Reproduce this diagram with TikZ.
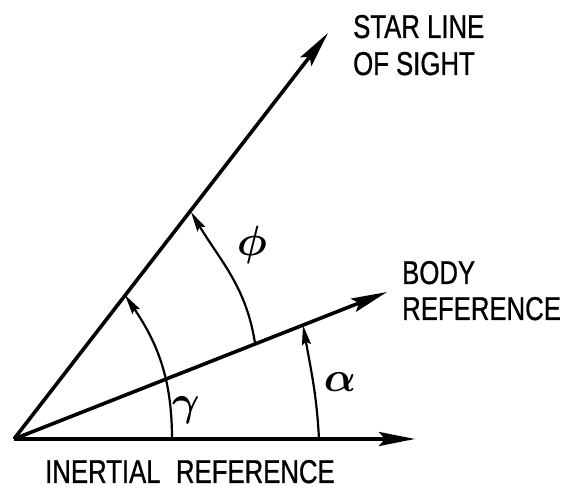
\documentclass[tikz,border=0pt]{standalone}
\usepackage{fontspec}
\usetikzlibrary{arrows.meta}
\newfontfamily\labfont[FakeStretch=0.78,FakeBold=0.8]{Liberation Sans}
\newcommand{\bigsym}[1]{\scalebox{1.7}{\Huge$\boldsymbol{#1}$}}
\usepackage{amsmath}
\tikzset{
  mainline/.style={line width=3.6pt, -{Stealth[length=36pt,width=14pt,inset=6pt]}},
  arcline/.style={line width=2.2pt, -{Stealth[length=20pt,width=9pt,inset=3pt]}},
  lab/.style={anchor=base west, inner sep=0pt, font=\labfont\fontsize{33}{37}\selectfont},
  greek/.style={inner sep=0pt}
}
\begin{document}
\begin{tikzpicture}[x=1pt,y=1pt]
\useasboundingbox (0,0) rectangle (568,490);
\coordinate (O) at (14,51);
\coordinate (star) at (328,457);
\coordinate (body) at (387,198);
\coordinate (inert) at (415,51);
\draw[mainline] (O) -- (star);
\draw[mainline] (O) -- (body);
\draw[mainline] (O) -- (inert);
% arcs
\coordinate (g0) at (172,51);
\coordinate (g1) at (125,195);
\coordinate (p0) at (255,147);
\coordinate (p1) at (191,278);
\coordinate (a0) at (319,51);
\coordinate (a1) at (303,165);
\draw[arcline] (g0) to[out=90,in=-56] (g1);
\draw[arcline] (p0) to[out=99,in=-59] (p1);
\draw[arcline] (a0) to[out=93,in=-80] (a1);
% labels
\node[lab] (s1) at (353,452) {STAR LINE};
\node[lab] (s2) at (353,415) {OF SIGHT};
\node[lab] (b1) at (402,206) {BODY};
\node[lab] (b2) at (402,170) {REFERENCE};
\node[lab] (i1) at (45,7) {INERTIAL\hspace{0.25em} REFERENCE};
\node[greek] (phi) at (252,245) {\bigsym{\phi}};
\node[greek] (gam) at (186,80) {\bigsym{\gamma}};
\node[greek] (alp) at (340,108) {\bigsym{\alpha}};
\end{tikzpicture}
\end{document}
